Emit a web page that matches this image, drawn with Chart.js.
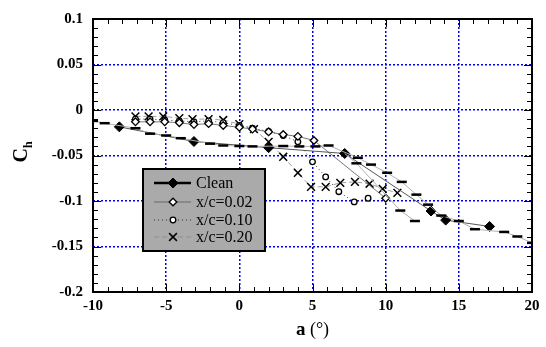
<!DOCTYPE html>
<html>
<head>
<meta charset="utf-8">
<script src="https://cdn.jsdelivr.net/npm/chart.js@4.4.0/dist/chart.umd.min.js"></script>
<style>
  html, body { margin: 0; padding: 0; background: #fff; }
  canvas { display: block; }
</style>
</head>
<body>
<canvas id="hingeChart" width="546" height="347"></canvas>
<script>
// hinge moment vs angle of attack
var cleanAlpha = [-8.2, -3.1, 2.0, 7.2, 13.1, 14.1, 17.1];
var cleanCh = [-0.0185, -0.0346, -0.0414, -0.0478, -0.111, -0.121, -0.128];

// fine clean run (dash markers, no legend entry)
var fineAlpha = [-10, -9.2, -7.1, -6.1, -5.0, -4.0, -2.0, -1.1, 0.0, 0.9, 3.0, 4.1, 5.2, 6.1, 8.1, 9.0, 10.1, 11.1, 12.1, 12.9, 13.8, 15.0, 16.1, 18.1, 19.0, 20];
var fineCh = [-0.012, -0.0145, -0.020, -0.026, -0.028, -0.031, -0.037, -0.039, -0.0396, -0.040, -0.0396, -0.040, -0.040, -0.039, -0.0525, -0.060, -0.069, -0.079, -0.093, -0.104, -0.116, -0.122, -0.131, -0.134, -0.139, -0.146];

var branchAlpha = [7.2, 8.0, 11.0, 12.0];
var branchCh = [-0.0478, -0.0586, -0.1105, -0.122];

var a02 = [-7.1, -6.1, -5.1, -4.1, -3.1, -2.1, -1.1, 0.0, 0.9, 2.0, 3.0, 4.0, 5.1, 10.0];
var ch02 = [-0.013, -0.013, -0.013, -0.014, -0.016, -0.015, -0.017, -0.019, -0.021, -0.024, -0.027, -0.029, -0.0335, -0.097];

var a10 = [-7.1, -6.1, -5.1, -4.1, -3.1, -2.1, -1.1, 0.0, 0.9, 2.0, 3.0, 4.0, 5.0, 5.9, 6.8, 7.85, 8.8];
var ch10 = [-0.010, -0.010, -0.011, -0.012, -0.013, -0.012, -0.014, -0.017, -0.020, -0.0235, -0.028, -0.035, -0.057, -0.0735, -0.0898, -0.101, -0.097];

var a20 = [-7.1, -6.2, -5.2, -4.1, -3.2, -2.1, -1.1, 0.0, 1.0, 2.0, 3.0, 4.0, 4.9, 5.9, 6.9, 7.9, 8.9, 9.8, 10.8];
var ch20 = [-0.007, -0.007, -0.007, -0.009, -0.010, -0.010, -0.011, -0.0156, -0.021, -0.035, -0.0514, -0.069, -0.0844, -0.0844, -0.080, -0.079, -0.081, -0.0866, -0.091];

var xMin = -10, xMax = 20, xStep = 5;
var yMin = -0.2, yMax = 0.1, yStep = 0.05;

function pts(xs, ys) {
  return xs.map(function (v, i) { return { x: v, y: ys[i] }; });
}

var serif = '"Liberation Serif", "Times New Roman", serif';

// frame, inward ticks, axis titles, legend box
var decor = {
  id: 'decor',
  afterDraw: function (chart) {
    var ctx = chart.ctx, a = chart.chartArea;
    var x = chart.scales.x, y = chart.scales.y;
    ctx.save();
    ctx.strokeStyle = '#000';
    ctx.lineWidth = 1;
    ctx.beginPath();
    for (var v = xMin; v <= xMax; v++) {
      var px = Math.round(x.getPixelForValue(v)) + 0.5;
      var len = (v % 5 === 0) ? 8 : 5;
      ctx.moveTo(px, a.bottom); ctx.lineTo(px, a.bottom - len);
      ctx.moveTo(px, a.top); ctx.lineTo(px, a.top + len);
    }
    for (var k = 0; k <= 30; k++) {
      var val = yMin + k * 0.01;
      var py = Math.round(y.getPixelForValue(val)) + 0.5;
      var l2 = (k % 5 === 0) ? 8 : 5;
      ctx.moveTo(a.left, py); ctx.lineTo(a.left + l2, py);
      ctx.moveTo(a.right, py); ctx.lineTo(a.right - l2, py);
    }
    ctx.stroke();
    ctx.lineWidth = 2;
    ctx.strokeRect(a.left, a.top, a.right - a.left, a.bottom - a.top);

    // x title
    ctx.fillStyle = '#000';
    ctx.textBaseline = 'middle';
    ctx.font = 'bold 19px ' + serif;
    var w1 = ctx.measureText('a').width;
    ctx.font = '18px ' + serif;
    var w2 = ctx.measureText(' (°)').width;
    var cx = (a.left + a.right) / 2 - (w1 + w2) / 2;
    ctx.textAlign = 'left';
    ctx.font = 'bold 19px ' + serif;
    ctx.fillText('a', cx, 330);
    ctx.font = '18px ' + serif;
    ctx.fillText(' (°)', cx + w1, 330);

    // y title C_h
    ctx.save();
    ctx.translate(27, 152);
    ctx.rotate(-Math.PI / 2);
    ctx.textBaseline = 'alphabetic';
    ctx.font = 'bold 20px ' + serif;
    var wc = ctx.measureText('C').width;
    ctx.font = 'bold 12px ' + serif;
    var wh = ctx.measureText('h').width;
    var sx = -(wc + wh) / 2;
    ctx.font = 'bold 20px ' + serif;
    ctx.fillText('C', sx, 0);
    ctx.font = 'bold 12px ' + serif;
    ctx.fillText('h', sx + wc, 5);
    ctx.restore();

    // legend
    var bx = 143, by = 169, bw = 122, bh = 82;
    ctx.fillStyle = '#aaaaaa';
    ctx.fillRect(bx, by, bw, bh);
    ctx.lineWidth = 2;
    ctx.strokeStyle = '#000';
    ctx.strokeRect(bx, by, bw, bh);
    var rowY = [183, 202, 220, 237];
    var row = 0;
    chart.data.datasets.forEach(function (ds) {
      if (!ds.inLegend) return;
      var ry = rowY[row++];
      ctx.save();
      ctx.strokeStyle = ds.legendLineColor || ds.borderColor;
      ctx.lineWidth = ds.legendLineWidth || ds.borderWidth;
      ctx.setLineDash(ds.borderDash || []);
      ctx.beginPath();
      ctx.moveTo(154, ry); ctx.lineTo(191, ry);
      ctx.stroke();
      ctx.setLineDash([]);
      ctx.fillStyle = ds.pointBackgroundColor;
      ctx.strokeStyle = ds.pointBorderColor;
      ctx.lineWidth = ds.pointBorderWidth;
      if (Chart.helpers && Chart.helpers.drawPoint) {
        Chart.helpers.drawPoint(ctx, {
          pointStyle: ds.pointStyle, radius: ds.pointRadius,
          rotation: 0, borderWidth: ds.pointBorderWidth
        }, 173, ry);
      }
      ctx.restore();
      ctx.fillStyle = '#000';
      ctx.font = '16px ' + serif;
      ctx.textAlign = 'left';
      ctx.textBaseline = 'middle';
      ctx.fillText(ds.label, 196, ry + 1);
    });
    ctx.restore();
  }
};

var ctxC = document.getElementById('hingeChart').getContext('2d');
var hingeChart = new Chart(ctxC, {
  type: 'scatter',
  data: {
    datasets: [
      {
        label: 'fine',
        data: pts(fineAlpha, fineCh),
        showLine: true,
        borderColor: '#b0b0b0',
        borderWidth: 1,
        pointStyle: 'line',
        pointRadius: 5,
        pointBorderWidth: 2.5,
        pointBorderColor: '#000',
        pointBackgroundColor: '#000'
      },
      {
        label: 'branch',
        data: pts(branchAlpha, branchCh),
        showLine: true,
        borderColor: '#b0b0b0',
        borderWidth: 1,
        pointStyle: 'line',
        pointRadius: [0, 5, 5, 5],
        pointBorderWidth: 2.5,
        pointBorderColor: '#000',
        pointBackgroundColor: '#000'
      },
      {
        label: 'Clean',
        inLegend: true,
        data: pts(cleanAlpha, cleanCh),
        showLine: true,
        borderColor: '#555',
        borderWidth: 1,
        legendLineColor: '#000',
        legendLineWidth: 2.5,
        pointStyle: 'rectRot',
        pointRadius: 5,
        pointBorderWidth: 1,
        pointBorderColor: '#000',
        pointBackgroundColor: '#000'
      },
      {
        label: 'x/c=0.02',
        inLegend: true,
        data: pts(a02, ch02),
        showLine: true,
        borderColor: '#555',
        borderWidth: 0.8,
        pointStyle: 'rectRot',
        pointRadius: 3.8,
        pointBorderWidth: 1.3,
        pointBorderColor: '#000',
        pointBackgroundColor: '#fff'
      },
      {
        label: 'x/c=0.10',
        inLegend: true,
        data: pts(a10, ch10),
        showLine: true,
        borderColor: '#333',
        borderWidth: 1,
        borderDash: [1, 3],
        pointStyle: 'circle',
        pointRadius: 2.8,
        pointBorderWidth: 1.3,
        pointBorderColor: '#000',
        pointBackgroundColor: '#fff'
      },
      {
        label: 'x/c=0.20',
        inLegend: true,
        data: pts(a20, ch20),
        showLine: true,
        borderColor: '#888',
        borderWidth: 0.8,
        borderDash: [5, 3],
        pointStyle: 'crossRot',
        pointRadius: 5.5,
        pointBorderWidth: 1.5,
        pointBorderColor: '#000',
        pointBackgroundColor: '#000'
      }
    ]
  },
  options: {
    responsive: false,
    animation: false,
    layout: { padding: { top: 14, right: 14, left: 0, bottom: 0 } },
    plugins: { legend: { display: false }, tooltip: { enabled: false } },
    elements: { line: { tension: 0 } },
    scales: {
      x: {
        type: 'linear',
        min: xMin, max: xMax,
        ticks: {
          stepSize: xStep,
          autoSkip: false,
          maxRotation: 0,
          color: '#000',
          padding: 5,
          font: { family: serif, size: 15, weight: 'bold' }
        },
        grid: { color: '#0000ee', lineWidth: 1.5, drawTicks: false },
        border: { display: false, dash: [2, 2] },
        afterFit: function (s) { s.height = 55; }
      },
      y: {
        type: 'linear',
        min: yMin, max: yMax,
        ticks: {
          stepSize: yStep,
          autoSkip: false,
          color: '#000',
          padding: 10,
          font: { family: serif, size: 15, weight: 'bold' },
          callback: function (v) { return String(Number(v.toFixed(2))); }
        },
        grid: { color: '#0000ee', lineWidth: 1.5, drawTicks: false },
        border: { display: false, dash: [2, 2] },
        afterFit: function (s) { s.width = 93; }
      }
    }
  },
  plugins: [decor]
});
</script>
</body>
</html>
